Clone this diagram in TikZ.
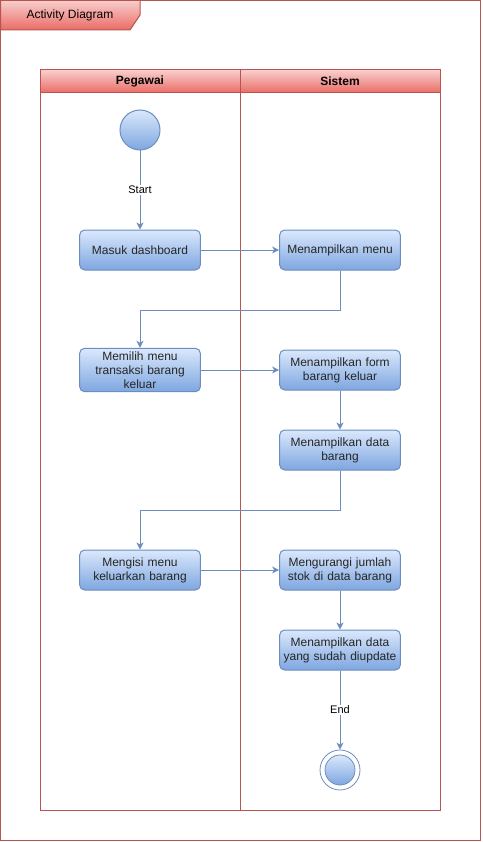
\documentclass[tikz,border=0pt]{standalone}
\usepackage{fontspec}
\setmainfont{Liberation Sans}
\usepackage{xcolor}
\usetikzlibrary{arrows.meta,positioning}
\definecolor{redline}{HTML}{B85450}
\definecolor{redtop}{HTML}{F8CECC}
\definecolor{redbot}{HTML}{EA6B66}
\definecolor{blueline}{HTML}{6C8EBF}
\definecolor{bluetop}{HTML}{DAE8FC}
\definecolor{bluebot}{HTML}{7EA6E0}
\tikzset{>={Stealth[length=7pt,width=7pt,inset=2pt]}}
\tikzset{
  act/.style={draw=blueline,line width=1pt,rounded corners=5pt,top color=bluetop,bottom color=bluebot,
    minimum width=120pt,minimum height=40pt,text width=114pt,align=center,
    font=\fontsize{12}{14}\selectfont,text=black!85},
  flow/.style={draw=blueline,line width=1pt,->},
  lbl/.style={fill=white,inner sep=1pt,font=\fontsize{11}{13}\selectfont}
}

\begin{document}
\begin{tikzpicture}[x=1pt,y=-1pt]
		\useasboundingbox (0,0) rectangle (482,842);
		% frame
		\draw[redline,line width=1pt] (0.5,0.5) rectangle (480.5,840.5);
		\shade[top color=redtop,bottom color=redbot,draw=redline,line width=1pt]
			(0.5,0.5) -- (140,0.5) -- (140,15) -- (130,30) -- (0.5,30) -- cycle;
		\node[font=\fontsize{12}{14}\selectfont] (title) at (70,15) {Activity Diagram};
		% lanes
		\draw[redline,line width=1pt] (40,70) rectangle (440,810);
		\draw[redline,line width=1pt] (240,70) -- (240,810);
		\shade[top color=redtop,bottom color=redbot,draw=redline,line width=1pt] (40,70) rectangle (240,93);
		\shade[top color=redtop,bottom color=redbot,draw=redline,line width=1pt] (240,70) rectangle (440,93);
		\node[font=\bfseries\fontsize{12}{14}\selectfont] (pegawai) at (140,81.5) {Pegawai};
		\node[font=\bfseries\fontsize{12}{14}\selectfont] (sistem) at (340,81.5) {Sistem};
		% start
		\node[circle,draw=blueline,line width=1pt,top color=bluetop,bottom color=bluebot,minimum size=40pt,inner sep=0pt] (start) at (140,130) {};
		% actions
		\node[act] (masuk) at (140,250) {Masuk dashboard};
		\node[act] (menu) at (340,250) {Menampilkan menu};
		\node[act] (memilih) at (140,370) {Memilih menu\\transaksi barang\\keluar};
		\node[act] (form) at (340,370) {Menampilkan form\\barang keluar};
		\node[act] (data) at (340,450) {Menampilkan data\\barang};
		\node[act] (mengisi) at (140,570) {Mengisi menu\\keluarkan barang};
		\node[act] (kurang) at (340,570) {Mengurangi jumlah\\stok di data barang};
		\node[act] (update) at (340,650) {Menampilkan data\\yang sudah diupdate};
		% end
		\node[circle,draw=blueline,fill=white,line width=0.8pt,minimum size=40pt,inner sep=0pt] (end) at (340,770) {};
		\node[circle,draw=blueline,line width=0.8pt,top color=bluetop,bottom color=bluebot,minimum size=30pt,inner sep=0pt] (endin) at (340,770) {};
		% flows
		\draw[flow] (start) -- node[lbl] {Start} (masuk);
		\draw[flow] (masuk) -- (menu);
		\draw[flow] (menu.south) |- (140,310) -- (memilih.north);
		\draw[flow] (memilih) -- (form);
		\draw[flow] (form) -- (data);
		\draw[flow] (data.south) |- (140,510) -- (mengisi.north);
		\draw[flow] (mengisi) -- (kurang);
		\draw[flow] (kurang) -- (update);
		\draw[flow] (update) -- node[lbl] {End} (end);
\end{tikzpicture}
\end{document}
